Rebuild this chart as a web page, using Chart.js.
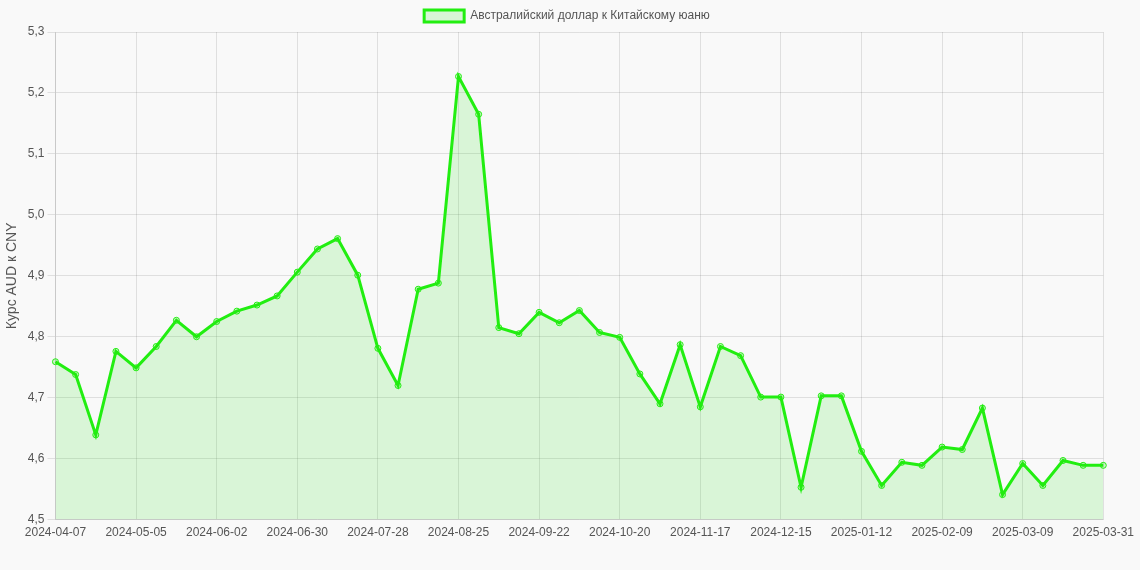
<!DOCTYPE html>
<html><head><meta charset="utf-8">
<script src="https://cdn.jsdelivr.net/npm/chart.js@4"></script>
<style>html,body{margin:0;padding:0;background:#f9f9f9}#w{width:1140px;height:570px}</style>
</head><body><div id="w"><canvas id="c"></canvas></div>
<script>
const labels = ["2024-04-07","2024-04-14","2024-04-21","2024-04-28","2024-05-05","2024-05-12","2024-05-19","2024-05-26","2024-06-02","2024-06-09","2024-06-16","2024-06-23","2024-06-30","2024-07-07","2024-07-14","2024-07-21","2024-07-28","2024-08-04","2024-08-11","2024-08-18","2024-08-25","2024-09-01","2024-09-08","2024-09-15","2024-09-22","2024-09-29","2024-10-06","2024-10-13","2024-10-20","2024-10-27","2024-11-03","2024-11-10","2024-11-17","2024-11-24","2024-12-01","2024-12-08","2024-12-15","2024-12-22","2024-12-29","2025-01-05","2025-01-12","2025-01-19","2025-01-26","2025-02-02","2025-02-09","2025-02-16","2025-02-23","2025-03-02","2025-03-09","2025-03-16","2025-03-23","2025-03-30","2025-03-31"];
const rates = [4.759,4.738,4.639,4.776,4.749,4.784,4.827,4.800,4.825,4.842,4.852,4.867,4.906,4.944,4.961,4.901,4.781,4.720,4.878,4.888,5.227,5.165,4.815,4.805,4.840,4.823,4.843,4.807,4.799,4.739,4.690,4.787,4.685,4.784,4.769,4.701,4.701,4.553,4.703,4.703,4.612,4.556,4.594,4.589,4.619,4.615,4.683,4.541,4.592,4.556,4.597,4.589,4.589];
const yTicks = [4.5,4.6,4.7,4.8,4.9,5.0,5.1,5.2,5.3];
new Chart(document.getElementById('c'), {
  type:'line',
  data:{labels, datasets:[{label:'Австралийский доллар к Китайскому юаню', data:rates,
    borderColor:'#22ee11', backgroundColor:'rgba(34,220,17,0.15)', fill:true, borderWidth:3,
    pointRadius:3, pointBackgroundColor:'rgba(34,220,17,0.2)', pointBorderColor:'#22ee11', pointBorderWidth:1, tension:0}]},
  options:{responsive:true, maintainAspectRatio:false, animation:false,
    layout:{padding:{right:6,bottom:24}},
    plugins:{legend:{labels:{color:'#555',font:{family:'Liberation Sans',size:12}}}},
    scales:{
      x:{grid:{color:'rgba(0,0,0,0.1)',drawTicks:false}, ticks:{color:'#555',maxRotation:0,autoSkip:false,padding:6,
        font:{family:'Liberation Sans',size:12},
        callback:(v,i)=> (i%4===0 && i<49) || i===52 ? labels[i] : null}},
      y:{min:4.5,max:5.3,grid:{color:'rgba(0,0,0,0.1)'},
        afterBuildTicks:a=>{a.ticks=yTicks.map(v=>({value:v}));},
        ticks:{color:'#555',font:{family:'Liberation Sans',size:12},callback:v=>v.toFixed(1).replace('.',',')},
        title:{display:true,text:'Курс AUD к CNY',color:'#555',font:{family:'Liberation Sans',size:14}}}
    }}
});
</script></body></html>
